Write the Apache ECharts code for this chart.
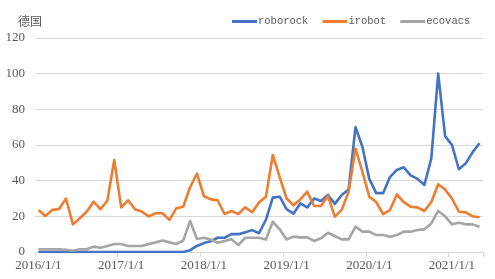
<!DOCTYPE html>
<html>
<head>
<meta charset="utf-8">
<script src="https://cdn.jsdelivr.net/npm/echarts@6/dist/echarts.min.js"></script>
<style>
html,body{margin:0;padding:0;background:#fff;}
#chart{width:495px;height:279px;}
</style>
</head>
<body>
<div id="chart"></div>
<script>
var categories = [
"2016/1/1","2016/2/1","2016/3/1","2016/4/1","2016/5/1","2016/6/1","2016/7/1","2016/8/1","2016/9/1","2016/10/1","2016/11/1","2016/12/1",
"2017/1/1","2017/2/1","2017/3/1","2017/4/1","2017/5/1","2017/6/1","2017/7/1","2017/8/1","2017/9/1","2017/10/1","2017/11/1","2017/12/1",
"2018/1/1","2018/2/1","2018/3/1","2018/4/1","2018/5/1","2018/6/1","2018/7/1","2018/8/1","2018/9/1","2018/10/1","2018/11/1","2018/12/1",
"2019/1/1","2019/2/1","2019/3/1","2019/4/1","2019/5/1","2019/6/1","2019/7/1","2019/8/1","2019/9/1","2019/10/1","2019/11/1","2019/12/1",
"2020/1/1","2020/2/1","2020/3/1","2020/4/1","2020/5/1","2020/6/1","2020/7/1","2020/8/1","2020/9/1","2020/10/1","2020/11/1","2020/12/1",
"2021/1/1","2021/2/1","2021/3/1","2021/4/1","2021/5/1"
];
var roborock = [
0,0,0,0,0,0,0,0,0,0,0,0,
0,0,0,0,0,0,0,0,0,0,1,3.4,
5,6,8,8,10,10,11,12.3,10.5,18,30.5,31,
24,21.5,27.3,25,30,28.6,32,27,32,35,70,59,
41,33,33,42,46,47.5,43,41,37.6,52.5,100,65,
60,46.4,49.7,56,61
];
var irobot = [
23.6,20.2,23.6,24.1,30,15.5,18.9,22.6,28.2,24,28.8,51.6,
25,29,24,22.6,20,21.7,21.7,18,24.5,25.4,36.3,44,
31.4,29.5,29,21.3,23,21.3,25,22.3,27.7,31,54.4,42,
30,26.2,29.5,33.8,25.8,25.8,31.4,19.8,23.6,33.8,58,45,
31,28,21.3,23.5,32.3,28,25.4,25,23,28,38,35,
30,22.6,22.2,20,19.5
];
var ecovacs = [
1.5,1.5,1.5,1.5,1.3,0.7,1.5,1.5,3,2.4,3.4,4.5,
4.5,3.4,3.4,3.4,4.5,5.4,6.4,5.4,4.5,6.4,17.4,7.3,
8,7,5.2,6.2,7.1,3.9,8,8,8,7,17,12.7,
7,8.6,8.2,8.2,6.2,7.7,10.8,9,7.1,7.1,14.2,11.4,
11.4,9.5,9.5,8.6,9.5,11.4,11.4,12.3,12.7,16,23,20,
15.5,16.4,15.5,15.5,14.2
];
var yTicks = [0, 20, 40, 60, 80, 100, 120];
var seriesNames = ["roborock", "irobot", "ecovacs"];
var colors = ["#4472C4", "#ED7D31", "#A5A5A5"];
var titleText = "德国";

var chart = echarts.init(document.getElementById('chart'), null, {renderer: 'canvas'});
var axisFont = {fontFamily: "Liberation Serif", fontSize: 13, color: "#595959"};
function mk(name, data, color) {
  return {
    name: name, type: 'line', data: data, symbol: 'none', smooth: false,
    lineStyle: {width: 2.6, color: color, join: 'round'},
    itemStyle: {color: color}
  };
}
chart.setOption({
  animation: false,
  color: colors,
  title: {
    text: titleText, left: 13, top: 10,
    textStyle: {fontFamily: "Noto Sans CJK SC", fontSize: 12, fontWeight: 'normal', color: '#595959'}
  },
  legend: {
    left: 227, top: 11, itemWidth: 25, itemHeight: 3, itemGap: 14, icon: 'rect',
    textStyle: {fontFamily: "Liberation Mono", fontSize: 10.5, color: '#595959', padding: [0, 0, 0, -4]},
    data: seriesNames
  },
  grid: {left: 35, right: 12, top: 38, bottom: 27, containLabel: false},
  xAxis: {
    type: 'category', data: categories, boundaryGap: true,
    axisLine: {lineStyle: {color: '#D9D9D9', width: 1}},
    axisTick: {show: true, interval: 11, length: 5, alignWithLabel: false, lineStyle: {color: '#D9D9D9'}},
    axisLabel: Object.assign({interval: 11, margin: 7}, axisFont),
    splitLine: {show: false}
  },
  yAxis: {
    type: 'value', min: yTicks[0], max: yTicks[yTicks.length - 1], interval: 20,
    axisLine: {show: false}, axisTick: {show: false},
    axisLabel: Object.assign({margin: 10}, axisFont),
    splitLine: {lineStyle: {color: '#D9D9D9', width: 1}}
  },
  series: [mk(seriesNames[0], roborock, colors[0]), mk(seriesNames[1], irobot, colors[1]), mk(seriesNames[2], ecovacs, colors[2])]
});
</script>
</body>
</html>
